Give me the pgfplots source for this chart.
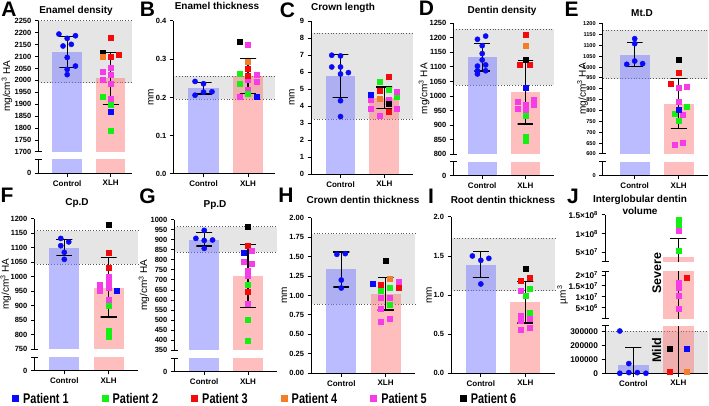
\documentclass[border=0pt]{standalone}
\usepackage{pgfplots}
\pgfplotsset{compat=1.18}
\usepackage{fontspec}
\setmainfont{Liberation Sans}
\newfontfamily\legfont[FakeStretch=0.78]{Liberation Sans}

\definecolor{pA}{RGB}{10,10,250}
\definecolor{pB}{RGB}{20,240,20}
\definecolor{pC}{RGB}{245,10,10}
\definecolor{pD}{RGB}{245,125,40}
\definecolor{pE}{RGB}{245,60,230}
\definecolor{pF}{RGB}{0,0,0}
\definecolor{cbar}{RGB}{120,120,255}
\definecolor{xbar}{RGB}{255,110,110}
\definecolor{bandgray}{RGB}{229,229,229}

\pgfplotsset{
 /pgf/number format/1000 sep={},
 gp/.style={scale only axis, clip=false, axis on top, anchor=south west,
  axis x line*=bottom, axis y line*=left,
  axis line style={line width=1pt},
  tick style={black, line width=1pt},
  tick align=outside, major tick length=3.5pt,
  xtick={0,1}, xticklabels={Control,XLH},
  xticklabel style={font=\bfseries\fontsize{8}{9}\selectfont},
  yticklabel style={font=\bfseries\fontsize{7.5}{8}\selectfont, /pgf/number format/fixed},
  /pgf/number format/assume math mode=true,
  scaled y ticks=false,
  ylabel style={font=\bfseries\fontsize{8.5}{10}\selectfont},
 },
 gpup/.style={gp, axis x line=none},
 gplow/.style={gp, ymin=0, ymax=1, ytick={0}},
 yl/.style={every axis y label/.style={at={(axis description cs:#1,0.5)}, rotate=90, anchor=center}},
 jtick/.style={yticklabel style={font=\bfseries\fontsize{8.3}{9}\selectfont}},
 cbarst/.style={fill=cbar, fill opacity=0.5, draw=none},
 xbarst/.style={fill=xbar, fill opacity=0.45, draw=none},
 ebst/.style={black, line width=1.2pt},
 bandline/.style={dotted, line width=0.8pt, black!65},
}

\newcommand{\band}[4]{%
 \addplot[fill=bandgray, draw=none] coordinates {(#1,#3) (#2,#3) (#2,#4) (#1,#4)};
 \addplot[bandline] coordinates {(#1,#4) (#2,#4)};
 \addplot[bandline] coordinates {(#1,#3) (#2,#3)};}
\newcommand{\barC}[2]{\addplot[cbarst] coordinates {(-0.34,#1) (0.34,#1) (0.34,#2) (-0.34,#2)};}
\newcommand{\barX}[2]{\addplot[xbarst] coordinates {(0.66,#1) (1.34,#1) (1.34,#2) (0.66,#2)};}
\newcommand{\ebC}[2]{\addplot[ebst] coordinates {(-0.18,#2) (0.18,#2) (0,#2) (0,#1) (-0.18,#1) (0.18,#1)};}
\newcommand{\ebX}[2]{\addplot[ebst] coordinates {(0.82,#2) (1.18,#2) (1,#2) (1,#1) (0.82,#1) (1.18,#1)};}
\newcommand{\pC}[1]{\addplot[only marks, mark=*, mark size=2.6pt, color=pA] coordinates {#1};}
\newcommand{\pX}[2]{\addplot[only marks, mark=square*, mark size=2.5pt, color=#1] coordinates {#2};}
\newcommand{\capbot}{\draw[line width=1pt] ([xshift=-3.5pt]axis description cs:0,0) -- ([xshift=3.5pt]axis description cs:0,0);}
\newcommand{\captop}{\draw[line width=1pt] ([xshift=-3.5pt]axis description cs:0,1) -- ([xshift=3.5pt]axis description cs:0,1);}

\tikzset{ttl/.style={font=\bfseries\fontsize{10}{11}\selectfont},
 lett/.style={font=\bfseries\fontsize{21}{22}\selectfont}}

\begin{document}
\begin{tikzpicture}
\useasboundingbox (0pt,0pt) rectangle (709pt,406pt);

% ---------------- A ----------------
\begin{axis}[gpup, yl=-0.335, at={(38.3pt,254pt)}, width=93.4pt, height=131.3pt,
 xmin=-0.664, xmax=1.483, ymin=1700, ymax=2250, ytick={1700,1750,...,2250},
 ylabel={mg/cm\textsuperscript{3} HA}]
\band{-0.664}{1.483}{1990}{2250}
\barC{1700}{2120} \barX{1700}{2008}
\ebC{2055}{2184} \ebX{1898}{2117}
\pC{(-0.19,2194) (0,2176) (0.19,2187) (-0.095,2144) (0.095,2151) (0,2096) (0.19,2060) (0,2046) (0,2024)}
\pX{pC}{(1,2180) (1,2099) (1.19,2109)}
\pX{pF}{(0.81,2117)}
\pX{pD}{(0.81,2099)}
\pX{pE}{(1,2055) (0.81,2038) (1,2024) (0.81,2004) (1,1988) (1,1925)}
\pX{pB}{(0.81,1932) (1,1897) (1,1789)}
\pX{pA}{(1,1870)}
\capbot
\end{axis}
\begin{axis}[gplow, at={(38.3pt,232.7pt)}, width=93.4pt, height=14pt,
 xmin=-0.664, xmax=1.483]
\barC{0}{1} \barX{0}{1}
\captop
\end{axis}

% ---------------- B ----------------
\begin{axis}[gp, yl=-0.22, at={(173.3pt,232pt)}, width=101.4pt, height=153pt,
 xmin=-0.679, xmax=1.6, ymin=0, ymax=0.4, ytick={0,0.1,...,0.4},
 yticklabel style={/pgf/number format/fixed, /pgf/number format/fixed zerofill, /pgf/number format/precision=1},
 ylabel={mm}]
\band{-0.679}{1.6}{0.195}{0.255}
\barC{0}{0.224} \barX{0}{0.256}
\ebC{0.209}{0.239} \ebX{0.211}{0.302}
\pC{(-0.19,0.242) (0,0.236) (-0.19,0.206) (0,0.214) (0.19,0.215)}
\pX{pF}{(0.81,0.347)}
\pX{pE}{(1,0.338) (1.19,0.260) (1,0.246) (1.19,0.240) (1,0.221) (0.81,0.201)}
\pX{pD}{(1,0.293)}
\pX{pC}{(1,0.274) (1,0.256)}
\pX{pB}{(0.81,0.262) (0.81,0.235) (1,0.209)}
\pX{pA}{(1.19,0.202)}
\end{axis}

% ---------------- C ----------------
\begin{axis}[gp, yl=-0.186, at={(311pt,231.7pt)}, width=102.3pt, height=153.3pt,
 xmin=-0.674, xmax=1.662, ymin=0, ymax=9, ytick={0,1,...,9},
 ylabel={mm}]
\band{-0.674}{1.662}{3.25}{8.3}
\barC{0}{5.75} \barX{0}{4.48}
\ebC{4.50}{7.04} \ebX{3.86}{5.13}
\pC{(-0.2,6.99) (0,6.95) (-0.2,6.30) (0,6.30) (0.18,5.97) (0,5.89) (0,4.32) (0,3.39)}
\pX{pC}{(1.09,5.71) (0.89,4.89) (1.09,3.68)}
\pX{pB}{(0.89,5.42) (1.09,4.99) (1.28,4.58)}
\pX{pE}{(1.28,4.83) (0.69,4.40) (1.09,4.36) (0.69,3.86) (1.28,3.87) (0.89,3.42)}
\pX{pA}{(0.69,4.70)}
\pX{pD}{(0.89,4.46)}
\pX{pF}{(1.09,4.13)}
\end{axis}

% ---------------- D ----------------
\begin{axis}[gpup, yl=-0.29, at={(453.3pt,251.7pt)}, width=100.7pt, height=131pt,
 xmin=-0.669, xmax=1.662, ymin=800, ymax=1250, ytick={800,850,...,1250},
 ylabel={mg/cm\textsuperscript{3} HA}]
\band{-0.669}{1.662}{1038}{1229}
\barC{800}{1133} \barX{800}{1014}
\ebC{1086}{1181} \ebX{904}{1122}
\pC{(-0.11,1195) (0.08,1206) (0,1173) (0,1146) (0,1124) (-0.11,1103) (0.08,1107) (-0.11,1087) (0.08,1087) (-0.11,1076)}
\pX{pC}{(1,1210) (0.87,1108) (1.11,1108)}
\pX{pD}{(1,1173)}
\pX{pF}{(1,1126)}
\pX{pA}{(1,1029)}
\pX{pE}{(0.81,981) (1.19,987) (0.81,957) (1,972) (1.19,969) (1,949)}
\pX{pB}{(1,931) (1,862) (1,845)}
\capbot
\end{axis}
\begin{axis}[gplow, at={(453.3pt,230.3pt)}, width=100.7pt, height=14pt,
 xmin=-0.669, xmax=1.662]
\barC{0}{1} \barX{0}{1}
\captop
\end{axis}

% ---------------- E ----------------
\begin{axis}[gpup, yl=-0.19, at={(602.7pt,252pt)}, width=105.6pt, height=130.3pt,
 xmin=-0.727, xmax=1.673, ymin=600, ymax=1200, ytick={600,650,...,1200},
 yticklabel style={font=\bfseries\fontsize{5.6}{6}\selectfont},
 ylabel={mg/cm\textsuperscript{3} HA}]
\band{-0.727}{1.673}{947}{1169}
\barC{600}{1056} \barX{600}{829}
\ebC{1002}{1113} \ebX{718}{948}
\pC{(0,1131) (0,1108) (0,1028) (-0.18,1013) (0.18,1016)}
\pX{pF}{(1,1036)}
\pX{pC}{(1,974) (0.81,925)}
\pX{pE}{(1,905) (1.18,910) (1,841) (1.09,780) (0.91,643) (1.09,652)}
\pX{pB}{(1.18,816) (0.91,784) (1,755)}
\pX{pA}{(1,806)}
\capbot
\end{axis}
\begin{axis}[gplow, at={(602.7pt,230pt)}, width=105.6pt, height=14pt,
 yticklabel style={font=\bfseries\fontsize{5.6}{6}\selectfont},
 xmin=-0.727, xmax=1.673]
\barC{0}{1} \barX{0}{1}
\captop
\end{axis}

% ---------------- F ----------------
\begin{axis}[gpup, yl=-0.275, at={(34.3pt,56.7pt)}, width=104pt, height=130.6pt,
 xmin=-0.677, xmax=1.67, ymin=750, ymax=1200, ytick={750,800,...,1200},
 ylabel={mg/cm\textsuperscript{3} HA}]
\band{-0.677}{1.67}{1043}{1158}
\barC{750}{1100} \barX{750}{961}
\ebC{1073}{1129} \ebX{861}{1066}
\pC{(-0.08,1132) (0.1,1120) (-0.08,1107) (0,1084) (0,1060)}
\pX{pF}{(1,1180)}
\pX{pC}{(1,1083) (1,1031)}
\pX{pE}{(1,1000) (0.81,972) (1,982) (0.81,951) (1,962) (1,920)}
\pX{pA}{(1.18,953)}
\pX{pB}{(1,900) (1,815) (1,795)}
\capbot
\end{axis}
\begin{axis}[gplow, at={(34.3pt,35pt)}, width=104pt, height=13.7pt,
 xmin=-0.677, xmax=1.67]
\barC{0}{1} \barX{0}{1}
\captop
\end{axis}

% ---------------- G ----------------
\begin{axis}[gpup, yl=-0.296, at={(174.3pt,55.7pt)}, width=102.4pt, height=130.6pt,
 xmin=-0.683, xmax=1.655, ymin=350, ymax=1000, ytick={350,400,...,1000},
 ylabel={mg/cm\textsuperscript{3} HA}]
\band{-0.683}{1.655}{838}{965}
\barC{350}{900} \barX{350}{720}
\ebC{869}{935} \ebX{562}{877}
\pC{(0,947) (-0.19,907) (0,897) (0.19,899) (0,857)}
\pX{pF}{(1,964)}
\pX{pC}{(1,869) (1,644)}
\pX{pE}{(1.09,847) (0.91,793) (1.09,780) (1,746) (1,720) (1,582)}
\pX{pA}{(0.91,834)}
\pX{pB}{(1,677) (1,504) (1,396)}
\capbot
\end{axis}
\begin{axis}[gplow, at={(174.3pt,34.3pt)}, width=102.4pt, height=13.4pt,
 xmin=-0.683, xmax=1.655]
\barC{0}{1} \barX{0}{1}
\captop
\end{axis}

% ---------------- H ----------------
\begin{axis}[gp, yl=-0.255, at={(311pt,32.7pt)}, width=104pt, height=155.6pt,
 xmin=-0.684, xmax=1.664, ymin=0, ymax=2, ytick={0,0.25,...,2},
 yticklabel style={/pgf/number format/fixed, /pgf/number format/fixed zerofill, /pgf/number format/precision=2},
 ylabel={mm}]
\band{-0.684}{1.664}{0.887}{1.795}
\barC{0}{1.34} \barX{0}{1.019}
\ebC{1.11}{1.56} \ebX{0.814}{1.235}
\pC{(-0.1,1.529) (0.09,1.538) (0,1.199) (0,1.096)}
\pX{pF}{(1,1.448)}
\pX{pD}{(1.1,1.212)}
\pX{pE}{(1.29,1.174) (0.9,0.968) (1.1,0.968) (0.9,0.835) (1.1,0.698) (0.9,0.66)}
\pX{pA}{(0.71,1.152)}
\pX{pC}{(0.9,1.135) (1.29,1.105)}
\pX{pB}{(1.1,1.101) (0.9,1.058) (1.1,0.878)}
\end{axis}

% ---------------- I ----------------
\begin{axis}[gp, yl=-0.21, at={(451pt,32.7pt)}, width=104pt, height=156.3pt,
 xmin=-0.67, xmax=1.667, ymin=0, ymax=2, ytick={0,0.5,...,2},
 yticklabel style={/pgf/number format/fixed, /pgf/number format/fixed zerofill, /pgf/number format/precision=1},
 ylabel={mm}]
\band{-0.67}{1.667}{1.057}{1.727}
\barC{0}{1.382} \barX{0}{0.908}
\ebC{1.224}{1.556} \ebX{0.644}{1.177}
\pC{(-0.19,1.501) (0,1.446) (0.18,1.471) (0,1.143)}
\pX{pF}{(1,1.335)}
\pX{pC}{(0.9,1.185) (1.1,1.224)}
\pX{pE}{(0.9,1.053) (0.9,0.738) (1.1,0.704) (0.9,0.674) (0.9,0.563) (1.1,0.584)}
\pX{pB}{(1.1,1.083) (1,0.998) (1.1,0.780)}
\end{axis}

% ---------------- J ----------------
\begin{axis}[gp, jtick, at={(605pt,32.7pt)}, width=103.3pt, height=47.3pt,
 xmin=-0.629, xmax=1.667, ymin=0, ymax=341000, ytick={0,100000,200000,300000},
 yticklabel style={/pgf/number format/fixed, /pgf/number format/precision=0}]
\addplot[fill=bandgray, draw=none] coordinates {(-0.629,0) (1.667,0) (1.667,305000) (-0.629,305000)};
\addplot[bandline] coordinates {(-0.629,305000) (1.667,305000)};
\barC{0}{60000} \barX{0}{341000}
\addplot[ebst] coordinates {(-0.18,185000) (0.18,185000) (0,185000) (0,0)};
\addplot[ebst] coordinates {(1,0) (1,341000)};
\pC{(-0.3,305000) (-0.1,70000) (-0.3,0) (-0.1,5000) (0.09,5000) (0.28,0)}
\pX{pF}{(0.81,178000)}
\pX{pA}{(1.19,178000)}
\pX{pC}{(0.81,15000)}
\pX{pD}{(1.19,15000)}
\captop
\end{axis}
\begin{axis}[gpup, jtick, yl=-0.41, at={(605pt,87.4pt)}, width=103.3pt, height=47.5pt,
 xmin=-0.629, xmax=1.667, ymin=0, ymax=21800000, ytick={5000000,10000000,15000000,20000000},
 yticklabels={5×10\textsuperscript{6},1×10\textsuperscript{7},1.5×10\textsuperscript{7},2×10\textsuperscript{7}},
 ylabel={µm\textsuperscript{3}}]
\barX{0}{21800000}
\addplot[ebst] coordinates {(1,0) (1,21800000)};
\pX{pC}{(1.19,18700000)}
\pX{pE}{(1,16500000) (1,14300000) (1,10500000) (1,4700000)}
\capbot \captop
\end{axis}
\begin{axis}[gpup, jtick, at={(605pt,144.3pt)}, width=103.3pt, height=46.7pt,
 xmin=-0.629, xmax=1.667, ymin=25000000, ymax=150000000, ytick={50000000,100000000,150000000},
 yticklabels={5×10\textsuperscript{7},1×10\textsuperscript{8},1.5×10\textsuperscript{8}}]
\barX{25000000}{37500000}
\addplot[ebst] coordinates {(0.82,87000000) (1.18,87000000) (1,87000000) (1,25000000)};
\pX{pB}{(1,137000000) (1,122000000) (1,54000000)}
\pX{pE}{(1,107000000)}
\capbot
\end{axis}
\node[rotate=90, font=\bfseries\fontsize{12.5}{13}\selectfont] at (656.7pt,133pt) {Severe};
\node[rotate=90, font=\bfseries\fontsize{12.5}{13}\selectfont] at (656.7pt,56pt) {Mild};

% ---------------- legend ----------------
\begin{axis}[hide axis, scale only axis, anchor=south west, at={(12pt,2pt)}, width=10pt, height=10pt,
 xmin=0, xmax=1, ymin=0, ymax=1, legend columns=6,
 legend image code/.code={\path[#1] (0pt,-3.5pt) rectangle (7pt,3.5pt); \path (9pt,0pt);},
 legend style={draw=none, fill=none, at={(0,0.5)}, anchor=west,
  font=\legfont\bfseries\fontsize{14}{15}\selectfont, inner sep=0pt,
  nodes={inner sep=2pt},
  /tikz/every even column/.append style={column sep=31pt}}]
\addplot[draw=none, forget plot] coordinates {(0,0)};
\addlegendimage{fill=pA, draw=none}\addlegendentry{Patient 1}
\addlegendimage{fill=pB, draw=none}\addlegendentry{Patient 2}
\addlegendimage{fill=pC, draw=none}\addlegendentry{Patient 3}
\addlegendimage{fill=pD, draw=none}\addlegendentry{Patient 4}
\addlegendimage{fill=pE, draw=none}\addlegendentry{Patient 5}
\addlegendimage{fill=pF, draw=none}\addlegendentry{Patient 6}
\end{axis}

% ---------------- titles and letters ----------------
\node[ttl] at (76pt,395.5pt) {Enamel density};
\node[ttl] at (217pt,400pt) {Enamel thickness};
\node[ttl] at (343pt,398.5pt) {Crown length};
\node[ttl] at (502pt,395pt) {Dentin density};
\node[ttl] at (642pt,393pt) {Mt.D};
\node[ttl] at (77pt,203pt) {Cp.D};
\node[ttl] at (215pt,201pt) {Pp.D};
\node[ttl] at (363pt,206pt) {Crown dentin thickness};
\node[ttl] at (503pt,206pt) {Root dentin thickness};
\node[ttl, align=center, font=\bfseries\fontsize{10}{11.5}\selectfont] at (640pt,201pt) {Interglobular dentin\\volume};
\node[lett] at (9pt,397pt) {A};
\node[lett] at (147.5pt,397pt) {B};
\node[lett] at (287.5pt,396pt) {C};
\node[lett] at (426.5pt,398pt) {D};
\node[lett] at (571.5pt,397pt) {E};
\node[lett] at (7pt,211pt) {F};
\node[lett] at (147.5pt,210pt) {G};
\node[lett] at (286pt,211pt) {H};
\node[lett] at (431pt,210pt) {I};
\node[lett] at (573pt,210pt) {J};
\end{tikzpicture}
\end{document}
